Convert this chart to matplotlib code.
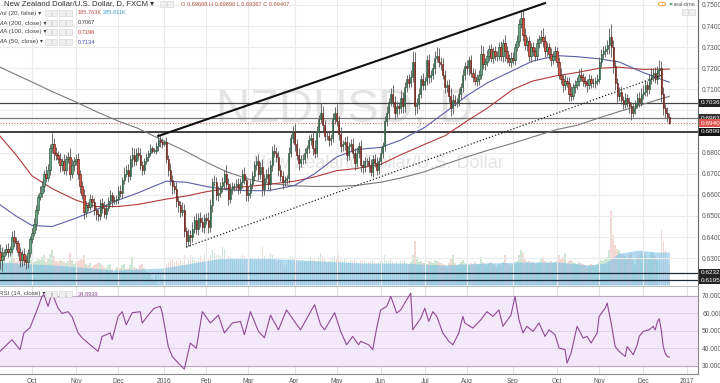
import numpy as np
import pandas as pd
import matplotlib
matplotlib.use("Agg")
import matplotlib.pyplot as plt

# ---- data ----
# daily closes in pips, 2015-09-08 .. 2016-12-20 (business days)
closes = [
    # Sep 2015
    6330, 6290, 6310, 6330, 6345, 6330, 6345, 6400, 6380, 6370, 6330, 6290, 6320, 6290, 6280, 6325, 6390,
    # Oct
    6420, 6460, 6530, 6590, 6610, 6640, 6700, 6680, 6720, 6820, 6840, 6800, 6790, 6770, 6740, 6760, 6720,
    6770, 6780, 6700, 6740, 6760,
    # Nov
    6770, 6700, 6640, 6600, 6520, 6550, 6545, 6580, 6565, 6530, 6510, 6500, 6560, 6540, 6510, 6540, 6570,
    6600, 6570, 6575, 6580,
    # Dec
    6620, 6610, 6670, 6700, 6720, 6690, 6770, 6790, 6760, 6800, 6790, 6740, 6720, 6760, 6780, 6800, 6820,
    6810, 6810, 6830, 6860, 6850, 6840,
    # Jan 2016
    6850, 6770, 6720, 6670, 6640, 6630, 6570, 6550, 6520, 6530, 6430, 6380, 6410, 6400, 6440, 6480, 6440,
    6490, 6470, 6450, 6490,
    # Feb
    6480, 6450, 6550, 6660, 6660, 6600, 6610, 6640, 6660, 6700, 6650, 6580, 6630, 6640, 6640, 6650, 6630,
    6660, 6700, 6670, 6600,
    # Mar
    6610, 6650, 6690, 6740, 6760, 6700, 6730, 6630, 6680, 6700, 6650, 6740, 6810, 6800, 6780, 6720, 6690,
    6660, 6670, 6680, 6800, 6870, 6900,
    # Apr
    6840, 6790, 6750, 6770, 6770, 6800, 6820, 6860, 6870, 6820, 6800, 6900, 6960, 6990, 6930, 6880, 6880,
    6860, 6870, 6960, 6990,
    # May
    6950, 6890, 6830, 6840, 6850, 6790, 6830, 6840, 6800, 6750, 6800, 6830, 6740, 6730, 6760, 6760, 6740,
    6710, 6770, 6750, 6720, 6760,
    # Jun
    6800, 6830, 6950, 6990, 7040, 7080, 7040, 6990, 7020, 7010, 7060, 7020, 7110, 7150, 7130, 7160, 7230,
    7020, 7030, 7080, 7150, 7120,
    # Jul
    7140, 7240, 7160, 7170, 7200, 7250, 7260, 7230, 7220, 7170, 7110, 7120, 7070, 7010, 7050, 7040, 7040,
    7080, 7110, 7170, 7210,
    # Aug
    7200, 7240, 7180, 7160, 7140, 7150, 7170, 7270, 7220, 7230, 7260, 7290, 7250, 7280, 7260, 7260, 7300,
    7260, 7320, 7280, 7250, 7230, 7250,
    # Sep
    7240, 7300, 7330, 7410, 7440, 7360, 7310, 7330, 7260, 7300, 7280, 7260, 7320, 7340, 7350, 7330, 7280,
    7300, 7270, 7240, 7260, 7280,
    # Oct
    7230, 7170, 7150, 7120, 7140, 7130, 7080, 7070, 7110, 7120, 7140, 7170, 7160, 7140, 7130, 7120, 7150,
    7130, 7130, 7140, 7150,
    # Nov
    7230, 7270, 7280, 7290, 7310, 7350, 7300, 7210, 7130, 7070, 7090, 7050, 7030, 7060, 7040, 7020, 6990,
    7010, 7030, 7060, 7040, 7080,
    # Dec
    7090, 7120, 7100, 7150, 7170, 7180, 7150, 7190, 7200, 7080, 7010, 6990, 6967, 6941,
]
first_open = 6300
wick_up = [
    20, 35, 45, 15, 20, 25, 15, 30, 35, 20, 15, 25, 20, 30, 25, 20, 15,
    25, 30, 20, 15, 30, 25, 20, 35, 25, 20, 55, 30, 25, 20, 30, 15, 35, 20, 25, 40, 30, 20,
    25, 30, 20, 25, 30, 20, 15, 25, 20, 20, 15, 25, 20, 25, 30, 15, 20, 25, 15, 20, 20,
    20, 25, 15, 30, 20, 25, 20, 35, 30, 20, 25, 30, 20, 15, 20, 15, 20, 10, 10, 20, 35, 25, 20,
    10, 25, 20, 30, 25, 20, 30, 25, 20, 35, 25, 20, 30, 25, 30, 20, 35, 25, 30, 25, 20,
    25, 40, 30, 20, 35, 25, 30, 20, 25, 20, 40, 30, 25, 20, 15, 25, 30, 20, 25, 30, 20,
    30, 20, 25, 20, 25, 35, 25, 40, 20, 25, 30, 25, 20, 30, 25, 30, 20, 25, 20, 15, 25, 20, 25,
    35, 25, 30, 20, 25, 20, 15, 25, 20, 30, 40, 25, 20, 45, 30, 25, 20, 25, 20, 30, 25,
    40, 25, 30, 20, 25, 30, 20, 25, 30, 20, 25, 20, 30, 25, 20, 15, 25, 30, 20, 25, 30, 20,
    25, 20, 25, 30, 20, 25, 40, 30, 25, 20, 35, 30, 25, 20, 25, 30, 50, 45, 30, 25, 20, 30,
    20, 25, 30, 20, 25, 30, 40, 35, 25, 30, 20, 25, 30, 35, 30, 25, 20, 25, 20, 25, 20,
    30, 20, 25, 20, 35, 25, 20, 40, 35, 20, 25, 20, 25, 20, 25, 20, 25, 30, 20, 40, 25, 20, 25,
    25, 20, 30, 25, 30, 35, 30, 20, 25, 20, 25, 20, 25, 20, 30, 40, 30, 25, 20, 25, 20, 25,
    20, 25, 30, 25, 30, 20, 30, 35, 20, 25, 20, 25, 30, 20, 25, 20, 25, 20, 25, 20, 25,
    25, 20, 25, 20, 25, 40, 60, 35, 30, 25, 20, 25, 20, 25, 20, 25, 20, 25, 20, 25, 30, 25,
    30, 25, 20, 25, 30, 20, 25, 20, 40, 35, 30, 20, 25, 22,
]
wick_dn = [
    25, 40, 50, 20, 15, 25, 20, 20, 25, 30, 20, 30, 25, 20, 30, 25, 20,
    20, 15, 25, 20, 15, 20, 25, 20, 15, 25, 20, 35, 25, 20, 30, 25, 20, 25, 20, 30, 20, 25,
    20, 25, 30, 20, 35, 25, 20, 15, 20, 25, 30, 25, 20, 25, 20, 25, 15, 20, 25, 15, 20,
    25, 20, 25, 20, 15, 30, 20, 40, 25, 20, 25, 20, 25, 20, 15, 20, 15, 10, 10, 15, 20, 25, 20,
    10, 20, 30, 25, 35, 20, 25, 30, 25, 20, 30, 25, 20, 40, 25, 20, 25, 30, 20, 25, 30,
    20, 30, 25, 30, 20, 25, 30, 20, 25, 30, 25, 30, 20, 25, 20, 15, 25, 20, 25, 20, 30,
    30, 25, 20, 25, 20, 30, 25, 35, 30, 20, 25, 30, 25, 20, 25, 30, 25, 30, 20, 20, 25, 20, 25,
    30, 25, 30, 20, 25, 20, 25, 20, 25, 30, 25, 20, 25, 20, 30, 25, 20, 30, 25, 20, 25,
    25, 30, 25, 20, 25, 30, 25, 20, 25, 30, 20, 25, 30, 25, 20, 25, 30, 20, 25, 20, 25, 20,
    20, 25, 20, 25, 30, 20, 25, 30, 20, 25, 20, 30, 25, 20, 25, 20, 25, 40, 30, 25, 20, 25,
    25, 20, 30, 25, 20, 25, 20, 25, 30, 20, 25, 20, 30, 35, 25, 20, 25, 20, 25, 20, 25,
    25, 30, 20, 25, 20, 25, 30, 20, 25, 30, 20, 25, 20, 25, 20, 25, 20, 25, 30, 45, 25, 20, 25,
    20, 25, 20, 25, 20, 30, 25, 30, 25, 30, 20, 25, 20, 25, 20, 30, 25, 20, 25, 30, 20, 25,
    25, 20, 25, 30, 25, 20, 35, 25, 20, 25, 20, 25, 20, 25, 20, 30, 20, 25, 20, 25, 20,
    20, 25, 20, 25, 20, 40, 45, 30, 35, 30, 25, 20, 25, 20, 25, 30, 35, 20, 25, 20, 25, 20,
    25, 20, 30, 20, 25, 30, 20, 25, 30, 40, 30, 25, 20, 4,
]
# volume in thousands
volume = [
    210, 250, 320, 230, 190, 200, 210, 280, 230, 200, 210, 220, 200, 230, 220, 210, 240,
    220, 200, 210, 230, 220, 240, 260, 200, 230, 270, 300, 250, 210, 200, 220, 210, 200, 190, 210, 280, 220, 180,
    200, 210, 220, 230, 260, 180, 170, 190, 160, 170, 180, 200, 190, 170, 160, 150, 170, 180, 140, 100, 150,
    160, 150, 170, 180, 140, 150, 170, 240, 160, 150, 140, 170, 180, 150, 120, 110, 100, 60, 40, 90, 120, 110, 60,
    40, 180, 200, 220, 230, 200, 210, 190, 220, 200, 260, 180, 230, 260, 240, 220, 210, 230, 250, 220, 270,
    240, 230, 260, 300, 280, 260, 270, 250, 330, 310, 220, 250, 240, 230, 220, 230, 220, 240, 260, 250, 230,
    250, 240, 230, 220, 210, 240, 220, 330, 250, 210, 220, 280, 260, 230, 200, 210, 220, 200, 160, 170, 230, 250, 240,
    230, 220, 210, 200, 220, 210, 200, 210, 240, 220, 230, 210, 240, 280, 250, 230, 200, 210, 220, 240, 250,
    230, 260, 240, 220, 230, 210, 200, 220, 210, 230, 200, 190, 220, 210, 200, 190, 200, 210, 220, 200, 190, 200,
    210, 200, 260, 220, 210, 230, 200, 190, 200, 180, 220, 210, 220, 190, 180, 200, 260, 380, 240, 200, 210, 190,
    190, 180, 210, 200, 190, 220, 210, 200, 190, 180, 170, 160, 190, 230, 260, 190, 170, 180, 200, 220, 190,
    180, 170, 190, 180, 200, 170, 180, 240, 200, 180, 170, 190, 200, 180, 170, 160, 180, 170, 200, 260, 190, 180, 170,
    180, 200, 210, 260, 300, 280, 230, 200, 210, 190, 200, 180, 190, 200, 230, 240, 210, 190, 200, 210, 190, 200,
    210, 260, 230, 240, 280, 190, 210, 220, 200, 190, 180, 200, 190, 180, 170, 160, 170, 180, 170, 160, 180,
    200, 220, 210, 230, 240, 300, 640, 430, 350, 310, 300, 270, 260, 250, 230, 260, 280, 220, 170, 240, 260, 280,
    250, 260, 240, 230, 290, 280, 250, 220, 240, 480, 380, 300, 220, 186,
]

ma_dates = ["2015-09-08", "2015-09-21", "2015-10-01", "2015-10-15", "2015-11-02", "2015-11-16",
            "2015-12-01", "2015-12-15", "2016-01-04", "2016-01-18", "2016-02-01", "2016-02-15",
            "2016-03-01", "2016-03-15", "2016-04-01", "2016-04-15", "2016-05-02", "2016-05-16",
            "2016-06-01", "2016-06-15", "2016-07-01", "2016-07-15", "2016-08-01", "2016-08-15",
            "2016-09-01", "2016-09-15", "2016-10-03", "2016-10-17", "2016-11-01", "2016-11-15",
            "2016-12-01", "2016-12-20"]
ma200 = [0.7210, 0.7170, 0.7135, 0.7090, 0.7040, 0.6995, 0.6950, 0.6915, 0.6850, 0.6805, 0.6755,
         0.6710, 0.6675, 0.6655, 0.6643, 0.6640, 0.6640, 0.6645, 0.6660, 0.6680, 0.6710, 0.6745,
         0.6780, 0.6810, 0.6845, 0.6875, 0.6910, 0.6930, 0.6965, 0.6995, 0.7030, 0.7067]
ma100 = [0.6890, 0.6790, 0.6690, 0.6630, 0.6575, 0.6545, 0.6545, 0.6555, 0.6580, 0.6595, 0.6615,
         0.6630, 0.6640, 0.6650, 0.6665, 0.6685, 0.6715, 0.6725, 0.6745, 0.6790, 0.6840, 0.6880,
         0.6950, 0.7010, 0.7100, 0.7140, 0.7165, 0.7180, 0.7200, 0.7205, 0.7195, 0.7196]
ma50 = [0.6560, 0.6500, 0.6455, 0.6450, 0.6490, 0.6530, 0.6575, 0.6610, 0.6665, 0.6660, 0.6640,
        0.6625, 0.6620, 0.6620, 0.6645, 0.6700, 0.6780, 0.6815, 0.6825, 0.6860, 0.6920, 0.6990,
        0.7070, 0.7130, 0.7190, 0.7235, 0.7260, 0.7255, 0.7245, 0.7230, 0.7180, 0.7134]

vol_ma_dates = ["2015-09-08", "2015-10-16", "2015-11-27", "2015-12-31", "2016-01-21", "2016-02-11",
                "2016-03-10", "2016-04-07", "2016-05-05", "2016-05-19", "2016-06-16", "2016-07-14",
                "2016-08-11", "2016-09-07", "2016-10-04", "2016-10-25", "2016-11-04", "2016-11-15",
                "2016-11-29", "2016-12-09", "2016-12-20"]
vol_ma = [199, 173, 130, 147, 190, 234, 234, 216, 199, 190, 190, 173, 190, 199, 199, 173, 190, 277,
          303, 286, 286]

# RSI(14): bar number -> value
rsi_bar = [1, 7, 11, 13, 16, 19, 22, 23, 25, 27, 30, 32, 35, 37, 40, 42, 46, 50, 52, 56, 57, 60,
           62, 64, 67, 71, 72, 76, 78, 81, 82, 85, 87, 90, 93, 96, 99, 102, 106, 110, 113, 117,
           121, 123, 126, 130, 133, 136, 140, 144, 148, 151, 156, 158, 161, 163, 166, 168, 171,
           174, 177, 180, 181, 185, 187, 189, 191, 194, 196, 199, 201, 203, 206, 207, 211, 213,
           215, 217, 219, 222, 225, 227, 230, 232, 233, 237, 241, 244, 247, 250, 252, 256, 258,
           260, 262, 264, 267, 270, 273, 275, 278, 280, 283, 284, 286, 289, 292, 294, 296, 299,
           300, 303, 304, 306, 308, 310, 313, 314, 317, 319, 320, 322, 325, 327, 328, 329, 330,
           331, 332, 333, 334, 335]
rsi_val = [38.2, 44.9, 39.2, 48.9, 51.8, 60.4, 69.8, 70.7, 64.0, 71.7, 63.0, 60.0, 61.0, 58.0,
           48.8, 46.0, 42.0, 38.2, 46.8, 48.8, 45.0, 58.3, 61.0, 53.5, 60.4, 61.0, 54.5, 60.4,
           63.0, 64.0, 60.4, 41.0, 35.3, 31.5, 28.0, 43.0, 40.0, 61.0, 54.5, 59.0, 48.8, 54.5,
           55.4, 47.8, 61.0, 49.7, 46.0, 59.0, 50.6, 62.0, 55.4, 50.6, 61.0, 65.0, 53.5, 50.6,
           56.4, 60.4, 49.7, 42.0, 46.8, 42.0, 44.0, 42.0, 39.2, 51.6, 62.0, 64.0, 69.8, 60.2,
           62.0, 66.0, 71.7, 50.6, 57.3, 63.0, 55.4, 61.0, 58.3, 48.8, 44.0, 42.0, 48.8, 58.3,
           54.5, 51.6, 56.4, 61.0, 58.3, 62.0, 52.6, 59.0, 69.8, 56.4, 48.8, 52.6, 49.7, 54.5,
           46.8, 50.6, 47.8, 40.1, 39.2, 31.5, 37.3, 52.6, 45.9, 46.8, 43.0, 48.8, 58.3, 63.0,
           66.0, 54.5, 41.0, 38.2, 35.3, 41.0, 36.3, 42.0, 46.8, 49.7, 50.6, 52.6, 50.5, 55.0,
           57.0, 50.5, 41.0, 37.0, 35.3, 34.9]

levels = [0.70362, 0.69637, 0.68993, 0.62321, 0.61951]
level_colors = ["#444444", "#777777", "#111111", "#1b2a3a", "#1b2a3a"]
last_price = 0.69407
upper_trend = (["2015-12-29", "2016-09-23"], [0.6879, 0.7509])
lower_trend = (["2016-01-18", "2016-12-15"], [0.6353, 0.7170])

# ---- layout ----
W, H = 720, 383
fig = plt.figure(figsize=(W / 100, H / 100), dpi=100)
plt.rcParams["font.family"] = ["Liberation Sans", "DejaVu Sans"]

dates = pd.bdate_range("2015-09-08", "2016-12-20")
all_days = pd.bdate_range("2015-09-08", "2017-01-31")
n = len(closes)
x = np.arange(n)

px_per_bar = 2.004
x0 = 17 - 32 / px_per_bar
xlim = (x0, x0 + 698 / px_per_bar)

def pos(ds):
    return all_days.get_indexer(pd.to_datetime(ds))

ax_v = fig.add_axes([0, 1 - 285 / H, 698 / W, 285 / H])
ax = fig.add_axes([0, 1 - 285 / H, 698 / W, 285 / H])
ax_r = fig.add_axes([0, 1 - 374 / H, 698 / W, 88 / H])
ax_v.set_zorder(0)
ax.set_zorder(1)
ax.patch.set_visible(False)

grid_c = "#ebebeb"

# month ticks
first_days = all_days.to_series().groupby([all_days.year, all_days.month]).first()
month_pos, month_lab = [], []
for d in first_days:
    if d < pd.Timestamp("2015-10-01"):
        continue
    month_pos.append(all_days.get_loc(d))
    month_lab.append(str(d.year) if d.month == 1 else d.strftime("%b"))

# ---- volume (bottom layer) ----
cl = np.array(closes) / 10000
op = np.concatenate([[first_open / 10000], cl[:-1]])
up = cl >= op
ax_v.bar(x, volume, width=0.75, color=np.where(up, "#9fcfaa", "#eab2aa"), alpha=0.5, linewidth=0)
ax_v.fill_between(pos(vol_ma_dates), vol_ma, 0, color="#72bde6", alpha=0.55, linewidth=0)
ax_v.set_xlim(xlim)
ax_v.set_ylim(0, 2470)
ax_v.axis("off")

# ---- price pane ----
ax.set_xlim(xlim)
ax.set_ylim(0.75 - 280 / 2110, 0.75 + 5 / 2110)
price_ticks = np.round(np.arange(0.63, 0.7501, 0.01), 2)
for p in price_ticks:
    ax.axhline(p, color=grid_c, lw=0.8, zorder=0)
for m in month_pos:
    ax.axvline(m, color=grid_c, lw=0.8, zorder=0)
    ax_r.axvline(m, color="#e4e0e8", lw=0.8, zorder=0)

ax.text(0.494, 0.614, "NZDUSD, D", transform=ax.transAxes, ha="center", va="center",
        fontsize=34, color="#e4e4e4", zorder=0.5)
ax.text(0.542, 0.428, "New Zealand Dollar/U.S. Dollar", transform=ax.transAxes, ha="center",
        va="center", fontsize=13, color="#e4e4e4", zorder=0.5)

for lv, lc in zip(levels, level_colors):
    ax.axhline(lv, color=lc, lw=1.1 if lc == "#111111" else 0.9, zorder=2)
ax.axhline(last_price, color="#e06666", lw=0.8, ls=(0, (1, 1.5)), zorder=2)

ax.plot(pos(ma_dates), ma200, color="#7a7a7a", lw=0.8, zorder=3)
ax.plot(pos(ma_dates), ma100, color="#b23a3a", lw=0.8, zorder=3)
ax.plot(pos(ma_dates), ma50, color="#5b5ea6", lw=0.8, zorder=3)

hi = np.maximum(op, cl) + np.array(wick_up) / 10000
lo = np.minimum(op, cl) - np.array(wick_dn) / 10000
ax.vlines(x, lo, hi, color="#555555", lw=0.6, zorder=4)
body = np.maximum(np.abs(cl - op), 0.00006)
ax.bar(x, body, bottom=np.minimum(op, cl), width=0.62,
       color=np.where(up, "#6ba583", "#d75442"), edgecolor=np.where(up, "#225437", "#5b1a13"),
       linewidth=0.45, zorder=5)

ax.plot(pos(upper_trend[0]), upper_trend[1], color="#111111", lw=1.5, zorder=6)
ax.plot(pos(lower_trend[0]), lower_trend[1], color="#222222", lw=0.9, ls=(0, (1, 1.6)), zorder=6)

for s in ["top", "left", "bottom"]:
    ax.spines[s].set_visible(False)
ax.spines["right"].set_color("#666666")
ax.spines["right"].set_linewidth(0.8)
ax.set_xticks([])
ax.yaxis.tick_right()
shown = [p for p in price_ticks if p not in (0.69, 0.70)]
ax.set_yticks(shown)
ax.set_yticklabels([f"{p:.5f}" for p in shown])
ax.tick_params(axis="y", length=0, pad=3, labelsize=4.8, labelcolor="#555555")

ytr = ax.get_yaxis_transform()
for lv, bg in zip([0.70362, 0.69637, 0.69407, 0.68993, 0.62321, 0.61951],
                  ["#222222", "#333333", "#d9534f", "#111111", "#222222", "#222222"]):
    ax.text(1.004, lv, f"{lv:.5f}", transform=ytr, ha="left", va="center", fontsize=4.6,
            color="white", clip_on=False, zorder=10,
            bbox=dict(boxstyle="square,pad=0.22", fc=bg, ec="none"))

# legend block
def icons(x_px, y_px, k=4):
    for i in range(k):
        fig.patches.append(plt.Rectangle(((x_px + i * 7) / W, 1 - (y_px + 3) / H), 5.5 / W, 6 / H,
                                         transform=fig.transFigure, fc="#f0f0f0", ec="#d0d0d0",
                                         lw=0.4))

fig.text(4 / W, 1 - 4 / H, "New Zealand Dollar/U.S. Dollar, D, FXCM \u25be", fontsize=5.6,
         color="#333333", va="center")
icons(160, 4, 2)
fig.text(181 / W, 1 - 4 / H, "O 0.69666 H 0.69890 L 0.69367 C 0.69407", fontsize=4.1,
         color="#b5533c", va="center")
rows = [("Vol (20, false) \u25be", 13, [("185.763K", "#c0504d"), ("285.811K", "#3d9bd6")]),
        ("MA (200, close) \u25be", 23, [("0.7067", "#333333")]),
        ("MA (100, close) \u25be", 32, [("0.7196", "#c0392b")]),
        ("MA (50, close) \u25be", 42, [("0.7134", "#3949ab")])]
for lab, yp, vals in rows:
    fig.text(-2 / W, 1 - yp / H, lab, fontsize=4.5, color="#444444", va="center")
    icons(45, yp, 4)
    xp = 78
    for v, c in vals:
        fig.text(xp / W, 1 - yp / H, v, fontsize=4.1, color=c, va="center")
        xp += 25

fig.patches.append(plt.Circle((662 / W, 1 - 4 / H), 3.5 / W, transform=fig.transFigure,
                              fc="white", ec="#f0a030", lw=0.7))
fig.text(662 / W, 1 - 4.3 / H, "!", fontsize=4, color="#f0a030", ha="center", va="center")
fig.patches.append(plt.Circle((671 / W, 1 - 4 / H), 1.6 / W, transform=fig.transFigure,
                              fc="#2e9e57", ec="none"))
fig.text(674 / W, 1 - 4 / H, "real-time", fontsize=4.1, color="#666666", va="center")
icons(682, 12, 2)

# ---- RSI pane ----
ax_r.set_xlim(xlim)
ax_r.set_ylim(30 - 8.3 / 1.7425, 70 + 10 / 1.7425)
ax_r.axhspan(30, 70, color="#f4e8fb", zorder=0)
for lv in [40, 50, 60]:
    ax_r.axhline(lv, color="#e2d0ec", lw=0.7, zorder=0.5)
for lv in [30, 70]:
    ax_r.axhline(lv, color="#b8a8c0", lw=0.8, zorder=0.5)
ax_r.plot(rsi_bar, rsi_val, color="#8e4a93", lw=0.8, zorder=3)
ax_r.spines["left"].set_visible(False)
for s_ in ["top", "right", "bottom"]:
    ax_r.spines[s_].set_color("#888888")
    ax_r.spines[s_].set_linewidth(0.8)
ax_r.spines["top"].set_color("#bbbbbb")
ax_r.yaxis.tick_right()
ax_r.set_yticks([30, 40, 50, 60, 70])
ax_r.set_yticklabels([f"{v:.4f}" for v in [30, 40, 50, 60, 70]])
ax_r.tick_params(axis="y", length=0, pad=3, labelsize=4.8, labelcolor="#555555")
ax_r.set_xticks(month_pos)
ax_r.set_xticklabels(month_lab)
ax_r.tick_params(axis="x", length=0, pad=3, labelsize=4.8, labelcolor="#555555")

fig.text(-1 / W, 1 - 294 / H, "RSI (14, close) \u25be", fontsize=4.5, color="#444444", va="center")
icons(45, 294, 4)
fig.text(78 / W, 1 - 294 / H, "34.8939", fontsize=4.1, color="#8e4a93", va="center")

fig.savefig("out.png", dpi=100)
